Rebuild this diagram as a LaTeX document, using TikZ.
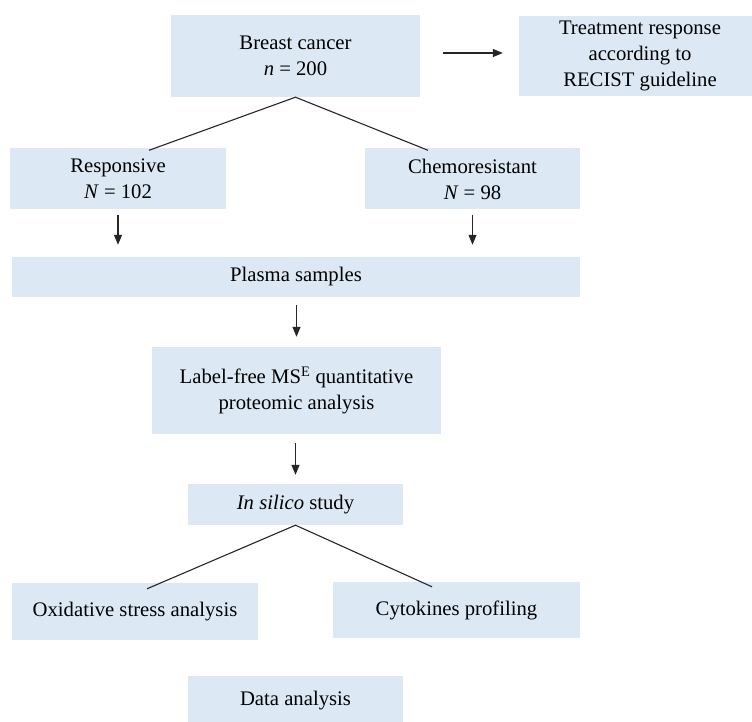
\documentclass[tikz,border=0pt]{standalone}
\usepackage{fontspec}
\setmainfont{Liberation Serif}
\usetikzlibrary{arrows.meta}
\definecolor{boxfill}{RGB}{220,233,245}
\begin{document}
\begin{tikzpicture}[x=1pt,y=-1pt,
  box/.style={fill=boxfill, inner sep=0pt, align=center,
    font=\fontsize{20.7}{26}\selectfont},
  link/.style={line width=1.1pt, draw=black!85},
  flow/.style={link, -{Triangle[length=10pt,width=8pt]}}]
\useasboundingbox (0,0) rectangle (752,722);

% boxes
\node[box, minimum width=249pt, minimum height=82pt] (bc) at (295.5,56)
  {Breast cancer\\\textit{n} = 200};
\node[box, minimum width=242pt, minimum height=80pt] (tr) at (640,56)
  {Treatment response\\according to\\RECIST guideline};
\node[box, minimum width=216pt, minimum height=61pt] (resp) at (118,179)
  {Responsive\\\textit{N} = 102};
\node[box, minimum width=215pt, minimum height=61pt] (chemo) at (472.5,179)
  {Chemoresistant\\\textit{N} = 98};
\node[box, minimum width=568pt, minimum height=40pt] (plasma) at (296,277)
  {Plasma samples};
\node[box, minimum width=289pt, minimum height=87pt] (ms) at (296.5,390.5)
  {Label-free MS\textsuperscript{E} quantitative\\proteomic analysis};
\node[box, minimum width=215pt, minimum height=41pt] (silico) at (295.5,504.5)
  {\textit{In silico} study};
\node[box, minimum width=246pt, minimum height=57pt] (ox) at (135,611.5)
  {Oxidative stress analysis};
\node[box, minimum width=247pt, minimum height=56pt] (cyt) at (456.5,610)
  {Cytokines profiling};
\node[box, minimum width=215pt, minimum height=50pt] (data) at (295.5,701)
  {Data analysis};

% branching lines
\draw[link] ([xshift=31pt,yshift=-2pt]resp.north) -- (bc.south)
  -- ([xshift=-44.5pt,yshift=-2pt]chemo.north);
\draw[link] ([xshift=12pt,yshift=-6pt]ox.north) -- (silico.south)
  -- ([xshift=-24.5pt,yshift=-5pt]cyt.north);

% arrows
\draw[flow, shorten <=23pt, shorten >=16pt] (bc.east |- 0,53) -- (tr.west |- 0,53);
\draw[flow, shorten <=5pt, shorten >=12pt] (resp.south) -- (resp.south |- plasma.north);
\draw[flow, shorten <=5pt, shorten >=12pt] (chemo.south) -- (chemo.south |- plasma.north);
\draw[flow, shorten <=8pt, shorten >=10pt] (plasma.south -| ms.north) -- (ms.north);
\draw[flow, shorten <=9pt, shorten >=9pt] (ms.south -| silico.north) -- (silico.north);
\end{tikzpicture}
\end{document}
